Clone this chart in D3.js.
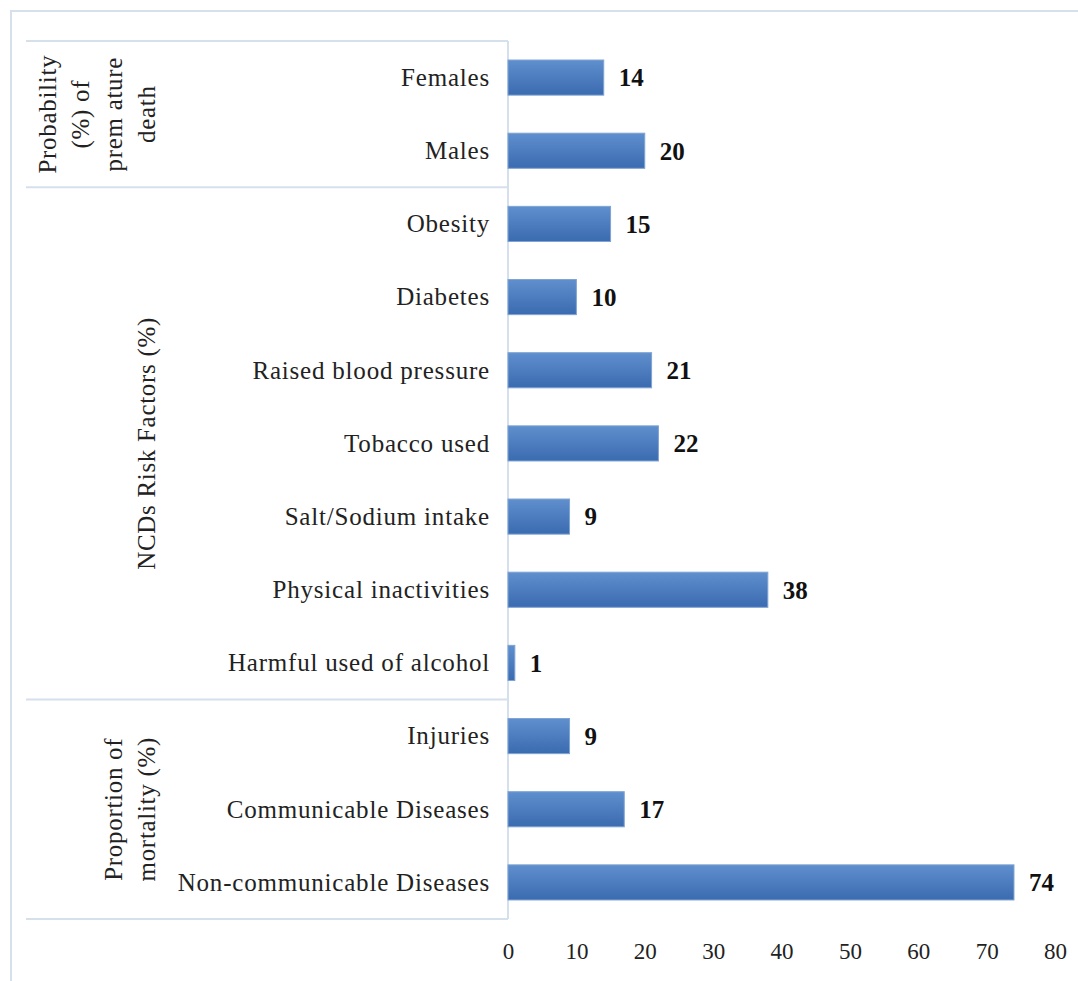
<!DOCTYPE html>
<html>
<head>
<meta charset="utf-8">
<script src="https://cdn.jsdelivr.net/npm/d3@7"></script>
<style>
  body { margin: 0; background: #fff; }
  text { font-family: "Liberation Serif", "Times New Roman", serif; }
</style>
</head>
<body>
<svg id="chart" width="1078" height="981"></svg>
<script>
// categories from top to bottom
const categories = [
  'Females', 'Males',
  'Obesity', 'Diabetes', 'Raised blood pressure', 'Tobacco used',
  'Salt/Sodium intake', 'Physical inactivities', 'Harmful used of alcohol',
  'Injuries', 'Communicable Diseases', 'Non-communicable Diseases'
];
const values = [14, 20, 15, 10, 21, 22, 9, 38, 1, 9, 17, 74];

const groupNames = [
  ['Probability', '(%) of', 'prem ature', 'death'],
  ['NCDs Risk Factors (%)'],
  ['Proportion of', 'mortality (%)']
];
const groupMembers = [
  ['Females', 'Males'],
  ['Obesity', 'Diabetes', 'Raised blood pressure', 'Tobacco used', 'Salt/Sodium intake', 'Physical inactivities', 'Harmful used of alcohol'],
  ['Injuries', 'Communicable Diseases', 'Non-communicable Diseases']
];
const xTicks = [0, 10, 20, 30, 40, 50, 60, 70, 80];

const data = categories.map((c, i) => ({ cat: c, value: values[i] }));

const svg = d3.select('#chart');
const margin = { top: 41, bottom: 919, left: 508, right: 1055 };
const lineColor = '#d6e0ec';

const defs = svg.append('defs');
const grad = defs.append('linearGradient')
  .attr('id', 'barGrad')
  .attr('x1', 0).attr('y1', 0).attr('x2', 0).attr('y2', 1);
grad.append('stop').attr('offset', '0%').attr('stop-color', '#5f8fcd');
grad.append('stop').attr('offset', '100%').attr('stop-color', '#3b6bb0');

// outer frame
svg.append('path')
  .attr('d', 'M11,981 V11 H1078')
  .attr('fill', 'none')
  .attr('stroke', lineColor)
  .attr('stroke-width', 2);

const x = d3.scaleLinear()
  .domain([0, 80])
  .range([margin.left, margin.right]);

const rows = d3.scaleBand()
  .domain(categories)
  .range([margin.top, margin.bottom])
  .padding(0);

const barH = rows.bandwidth() * 0.48;

// group separators
groupMembers.forEach((members, gi) => {
  const y0 = rows(members[0]);
  const y1 = rows(members[members.length - 1]) + rows.bandwidth();
  if (gi === 0) {
    svg.append('line')
      .attr('x1', 26).attr('x2', margin.left)
      .attr('y1', y0).attr('y2', y0)
      .attr('stroke', lineColor).attr('stroke-width', 2);
  }
  svg.append('line')
    .attr('x1', 26).attr('x2', margin.left)
    .attr('y1', y1).attr('y2', y1)
    .attr('stroke', lineColor).attr('stroke-width', 2);

  // rotated group label, lines stacked to the left
  const cy = (y0 + y1) / 2;
  const lines = groupNames[gi];
  const lineGap = 33;
  lines.forEach((t, li) => {
    const cx = 147 - (lines.length - 1 - li) * lineGap;
    svg.append('text')
      .attr('transform', `translate(${cx + 8},${cy}) rotate(-90)`)
      .attr('text-anchor', 'middle')
      .attr('font-size', '25px')
      .attr('letter-spacing', '0.7px')
      .attr('fill', '#222')
      .text(t);
  });
});

// vertical axis line
svg.append('line')
  .attr('x1', margin.left).attr('x2', margin.left)
  .attr('y1', margin.top).attr('y2', margin.bottom)
  .attr('stroke', lineColor).attr('stroke-width', 2);

// bars
svg.selectAll('.bar')
  .data(data)
  .enter()
  .append('rect')
  .attr('class', 'bar')
  .attr('x', x(0))
  .attr('y', d => rows(d.cat) + (rows.bandwidth() - barH) / 2)
  .attr('width', d => x(d.value) - x(0))
  .attr('height', barH)
  .attr('fill', 'url(#barGrad)')
  .attr('stroke', '#7fa3d3')
  .attr('stroke-width', 1);

// value labels
svg.selectAll('.val')
  .data(data)
  .enter()
  .append('text')
  .attr('class', 'val')
  .attr('x', d => x(d.value) + 15)
  .attr('y', d => rows(d.cat) + rows.bandwidth() / 2)
  .attr('dy', '0.35em')
  .attr('font-size', '25px')
  .attr('font-weight', 'bold')
  .attr('fill', '#111')
  .text(d => d.value);

// category labels
svg.selectAll('.cat')
  .data(data)
  .enter()
  .append('text')
  .attr('class', 'cat')
  .attr('x', 490)
  .attr('y', d => rows(d.cat) + rows.bandwidth() / 2)
  .attr('dy', '0.33em')
  .attr('text-anchor', 'end')
  .attr('font-size', '25px')
  .attr('letter-spacing', '0.8px')
  .attr('fill', '#222')
  .text(d => d.cat);

// x axis
const xAxis = svg.append('g')
  .attr('transform', `translate(0, 943)`)
  .call(d3.axisBottom(x).tickValues(xTicks).tickSize(0).tickPadding(0));
xAxis.select('.domain').remove();
xAxis.selectAll('text')
  .attr('font-family', '"Liberation Serif", serif')
  .attr('font-size', '23px')
  .attr('fill', '#222')
  .attr('dy', '0.71em');
</script>
</body>
</html>
